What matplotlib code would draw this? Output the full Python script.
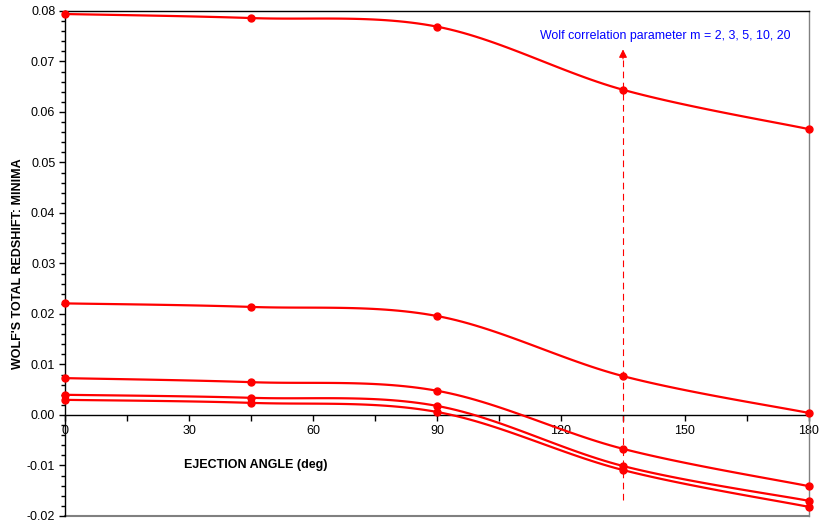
import numpy as np
import matplotlib
matplotlib.use("Agg")
import matplotlib.pyplot as plt
from matplotlib.ticker import MultipleLocator, FixedLocator

plt.rcParams['font.family'] = ['Liberation Sans', 'DejaVu Sans']

angles = [0, 45, 90, 135, 180]
m2 = [0.0794, 0.0786, 0.0769, 0.0644, 0.0566]
m3 = [0.0221, 0.0214, 0.0196, 0.0077, 0.0004]
m5 = [0.0073, 0.0065, 0.0048, -0.0067, -0.0141]
m10 = [0.0040, 0.0034, 0.0018, -0.0101, -0.0170]
m20 = [0.0030, 0.0024, 0.0006, -0.0109, -0.0182]
series = [m2, m3, m5, m10, m20]
xticks = [0, 30, 60, 90, 120, 150, 180]
yticks = [-0.02, -0.01, 0.00, 0.01, 0.02, 0.03, 0.04, 0.05, 0.06, 0.07, 0.08]
annotation = "Wolf correlation parameter m = 2, 3, 5, 10, 20"
RED = "#ff0000"


def smooth(x, y, n=30):
    """Excel-style smoothed line (Catmull-Rom Bezier) through the points."""
    x = np.asarray(x, float)
    y = np.asarray(y, float)
    px, py = [], []
    N = len(x)
    for i in range(N - 1):
        x0, y0 = (x[i - 1], y[i - 1]) if i > 0 else (x[i], y[i])
        x1, y1 = x[i], y[i]
        x2, y2 = x[i + 1], y[i + 1]
        x3, y3 = (x[i + 2], y[i + 2]) if i + 2 < N else (x2, y2)
        c1x, c1y = x1 + (x2 - x0) / 6, y1 + (y2 - y0) / 6
        c2x, c2y = x2 - (x3 - x1) / 6, y2 - (y3 - y1) / 6
        t = np.linspace(0, 1, n)
        bx = (1-t)**3*x1 + 3*(1-t)**2*t*c1x + 3*(1-t)*t**2*c2x + t**3*x2
        by = (1-t)**3*y1 + 3*(1-t)**2*t*c1y + 3*(1-t)*t**2*c2y + t**3*y2
        px.extend(bx); py.extend(by)
    return np.array(px), np.array(py)


fig = plt.figure(figsize=(8.25, 5.23), dpi=100)
ax = fig.add_axes([0.0788, 0.0134, 0.9018, 0.9656])

for s in series:
    sx, sy = smooth(angles, s)
    ax.plot(sx, sy, color=RED, lw=1.6, zorder=3, clip_on=False)
    ax.plot(angles, s, 'o', color=RED, ms=5, zorder=4, clip_on=False)

ax.set_xlim(0, 180)
ax.set_ylim(-0.02, 0.08)

ax.spines['bottom'].set_position(('data', 0))
ax.spines['bottom'].set_color('black')
ax.spines['left'].set_color('black')
ax.spines['top'].set_color('black')
ax.spines['right'].set_color('#808080')
for sp in ax.spines.values():
    sp.set_linewidth(1.0)
ax.axhline(-0.02, color='#808080', lw=1.5, clip_on=False, zorder=1)

ax.xaxis.set_major_locator(FixedLocator(xticks))
ax.xaxis.set_minor_locator(MultipleLocator(15))
ax.set_xticklabels([str(v) for v in xticks], fontsize=9)
ax.yaxis.set_major_locator(FixedLocator(yticks))
ax.yaxis.set_minor_locator(MultipleLocator(0.002))
ax.set_yticklabels([f"{v:.2f}" for v in yticks], fontsize=9)
ax.tick_params(axis='x', which='both', direction='out', length=4, width=1, pad=3)
ax.tick_params(axis='y', which='major', direction='out', length=4, width=1, pad=3)
ax.tick_params(axis='y', which='minor', direction='out', length=3, width=1)

ax.set_ylabel("WOLF'S TOTAL REDSHIFT: MINIMA", fontsize=9, fontweight='bold', labelpad=2)
ax.text(28.8, -0.0099, "EJECTION ANGLE (deg)", fontsize=9, fontweight='bold',
        ha='left', va='center')

# annotation line and arrow
ax.plot([135, 135], [-0.0168, 0.0708], color=RED, lw=0.8, ls=(0, (6, 4)), zorder=2)
ax.annotate("", xy=(135, 0.0724), xytext=(135, 0.0705),
            arrowprops=dict(arrowstyle='-|>', color=RED, lw=0.8,
                            mutation_scale=12, shrinkA=0, shrinkB=0))
ax.text(145.2, 0.0750, annotation, color='#0000ff', fontsize=8.9,
        ha='center', va='center')

fig.savefig("out.png", dpi=100)
